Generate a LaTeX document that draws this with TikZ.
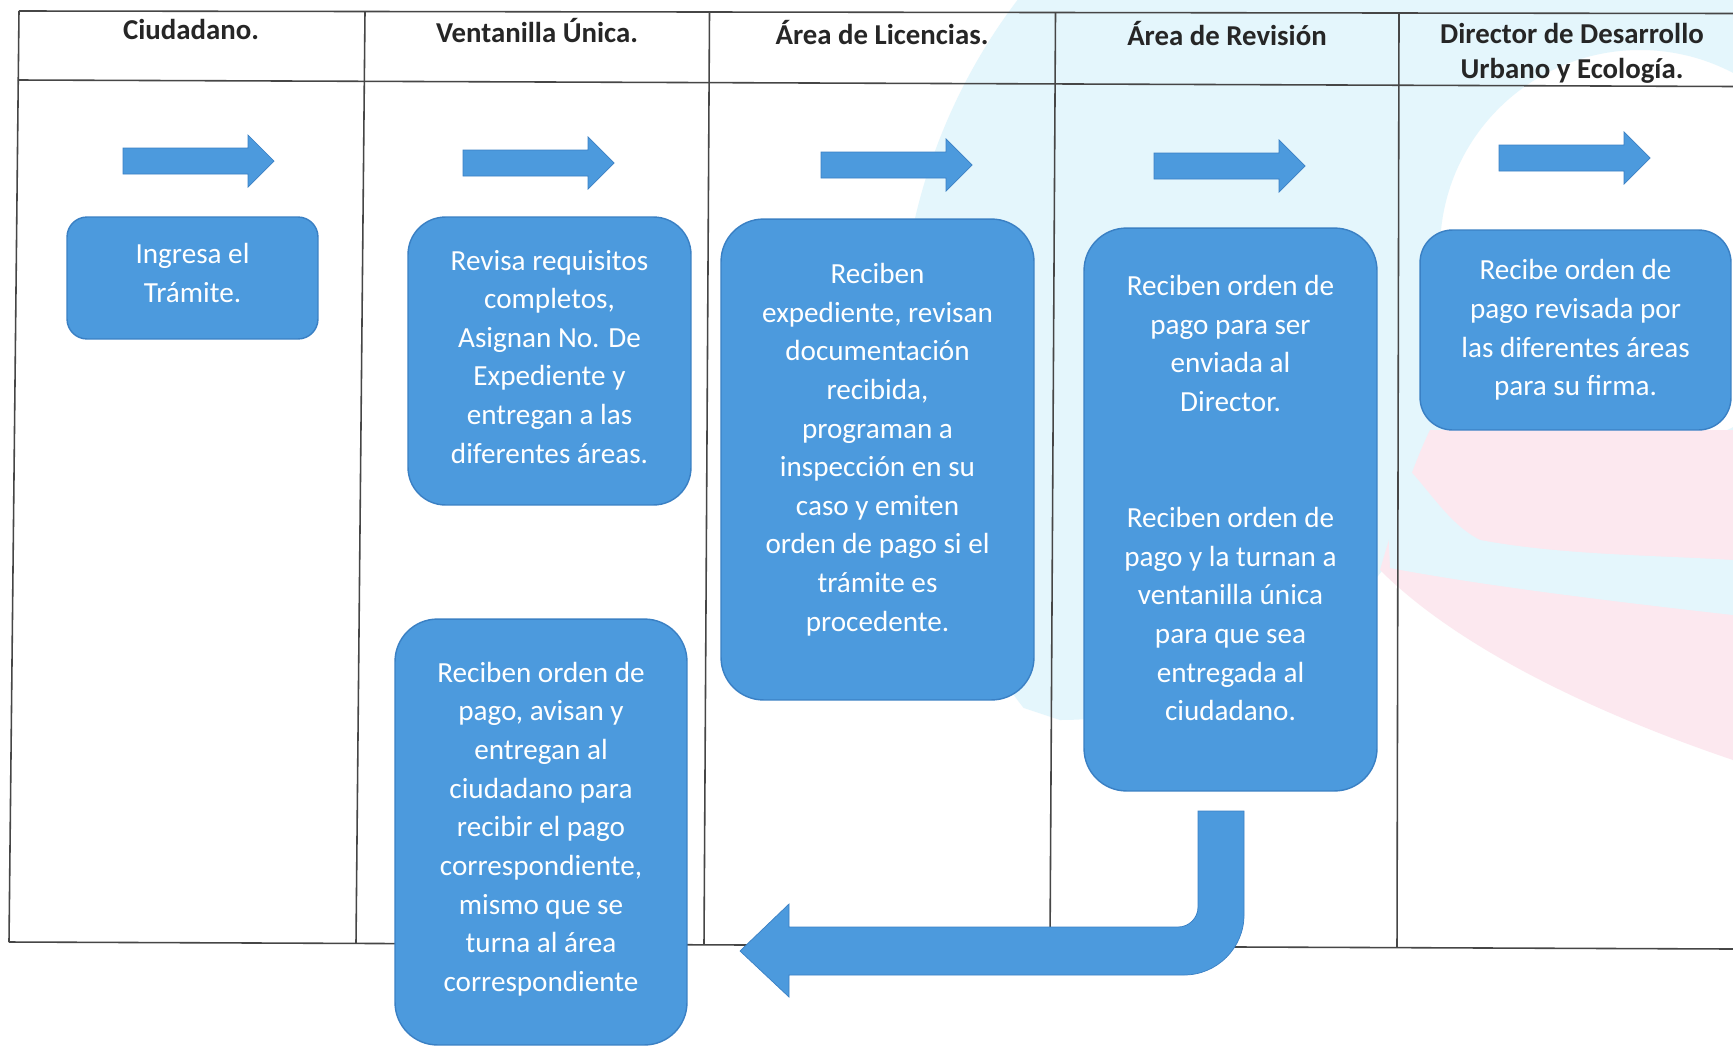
\documentclass[tikz,border=0pt]{standalone}
\usepackage{fontspec}
\setmainfont{Carlito}
\definecolor{azul}{RGB}{76,154,221}
\definecolor{azulborde}{RGB}{58,128,196}
\definecolor{linea}{RGB}{70,70,70}
\definecolor{marcacian}{RGB}{228,246,252}
\definecolor{marcarosa}{RGB}{252,232,239}
% profundidad extra al final del texto: lo sube dentro de la caja
\newcommand{\alzar}[1]{\rule[-#1]{0pt}{0pt}}

\tikzset{
  caja/.style={draw=azulborde, fill=azul, line width=0.8pt, text=white, align=center,
    inner sep=0pt, font=\fontsize{16.6}{22}\selectfont},
  titulo/.style={align=center, inner sep=0pt, text=black!85,
    font=\bfseries\fontsize{16.4}{20}\selectfont},
  flecha/.style={fill=azul, draw=azulborde, line width=0.4pt},
  tabla/.style={draw=linea, line width=0.9pt}
}

\begin{document}
\begin{tikzpicture}[x=0.02cm, y=-0.02cm]
  \useasboundingbox (0,0) rectangle (1733,1048);
  \fill[white] (0,0) rectangle (1733,1048);

  % marca de agua
  \begin{scope}
    \clip (0,0) -- (1733,0) -- (1733,560) -- (1390,560)
      .. controls (1320,660) and (1180,720) .. (1060,720) -- (1000,700) -- (0,700) -- cycle;
    \fill[marcacian, even odd rule] (1480,350) circle (580) (1640,250) circle (200);
  \end{scope}
  \fill[marcarosa] (1380,570) .. controls (1400,500) and (1420,450) .. (1430,430)
    -- (1733,430) -- (1733,760) .. controls (1600,715) and (1460,650) .. (1380,570) -- cycle;
  \fill[marcacian] (1385,450) .. controls (1420,470) and (1440,520) .. (1480,540)
    .. controls (1560,555) and (1650,555) .. (1733,560)
    -- (1733,615) .. controls (1600,600) and (1480,585) .. (1390,568) -- cycle;

  % tabla
  \draw[tabla] (19,11) -- (1733,13.5);
  \draw[tabla] (18,80) -- (1733,86.5);
  \draw[tabla] (9,942) -- (1733,949);
  \draw[tabla] (19,11) -- (9,942);
  \draw[tabla] (365,11.5) -- (356,943);
  \draw[tabla] (709.5,12) -- (704,944);
  \draw[tabla] (1055.5,12.5) -- (1050,945);
  \draw[tabla] (1399,13) -- (1397,947);

  \node[titulo] (ciudadano) at (191,29) {Ciudadano.};
  \node[titulo] (ventanilla) at (537,31) {Ventanilla Única.};
  \node[titulo] (licencias) at (882,33) {Área de Licencias.};
  \node[titulo] (revision) at (1227,34) {Área de Revisión};
  \node[titulo] (director) at (1572,53) {Director de Desarrollo\\Urbano y Ecología.};

  % flechas de cada carril
  \filldraw[flecha] (123,148) -- (248,148) -- (248,135) -- (274,161) -- (248,187) -- (248,174) -- (123,174) -- cycle;
  \filldraw[flecha] (463,150) -- (588,150) -- (588,137) -- (614,163) -- (588,189) -- (588,176) -- (463,176) -- cycle;
  \filldraw[flecha] (821,152) -- (946,152) -- (946,139) -- (972,165) -- (946,191) -- (946,178) -- (821,178) -- cycle;
  \filldraw[flecha] (1154,153) -- (1279,153) -- (1279,140) -- (1305,166) -- (1279,192) -- (1279,179) -- (1154,179) -- cycle;
  \filldraw[flecha] (1499,145) -- (1624,145) -- (1624,132) -- (1650,158) -- (1624,184) -- (1624,171) -- (1499,171) -- cycle;

  % pasos
  \node[caja, rounded corners=0.4cm, minimum width=5.02cm, minimum height=2.44cm]
    (ingresa) at (192.5,278) {Ingresa el\\Trámite.\alzar{6pt}};
  \node[caja, rounded corners=0.75cm, minimum width=5.66cm, minimum height=5.76cm]
    (requisitos) at (549.5,361) {Revisa requisitos\\completos,\\Asignan No. De\\Expediente y\\entregan a las\\diferentes áreas.\alzar{5pt}};
  \node[caja, rounded corners=0.85cm, minimum width=6.26cm, minimum height=9.62cm]
    (expediente) at (877.5,459.5) {Reciben\\expediente, revisan\\documentación\\recibida,\\programan a\\inspección en su\\caso y emiten\\orden de pago si el\\trámite es\\procedente.\alzar{14pt}};
  \node[caja, rounded corners=0.85cm, minimum width=5.86cm, minimum height=11.26cm]
    (ordenpago) at (1230.5,509.5) {Reciben orden de\\pago para ser\\enviada al\\Director.\\[44pt]Reciben orden de\\pago y la turnan a\\ventanilla única\\para que sea\\entregada al\\ciudadano.\alzar{13pt}};
  \node[caja, rounded corners=0.65cm, minimum width=6.22cm, minimum height=4cm]
    (firma) at (1575.5,330) {Recibe orden de\\pago revisada por\\las diferentes áreas\\para su firma.};
  \node[caja, rounded corners=0.85cm, minimum width=5.84cm, minimum height=8.52cm]
    (cobro) at (541,832) {Reciben orden de\\pago, avisan y\\entregan al\\ciudadano para\\recibir el pago\\correspondiente,\\mismo que se\\turna al área\\correspondiente\alzar{6pt}};

  % regreso a ventanilla
  \filldraw[flecha] (1198,811) -- (1244,811) -- (1244,915)
    .. controls (1244,948) and (1217,975) .. (1184,975)
    -- (789,975) -- (789,997) -- (740,951) -- (789,904) -- (789,927) -- (1178,927)
    .. controls (1189,927) and (1198,918) .. (1198,907) -- cycle;
\end{tikzpicture}
\end{document}
